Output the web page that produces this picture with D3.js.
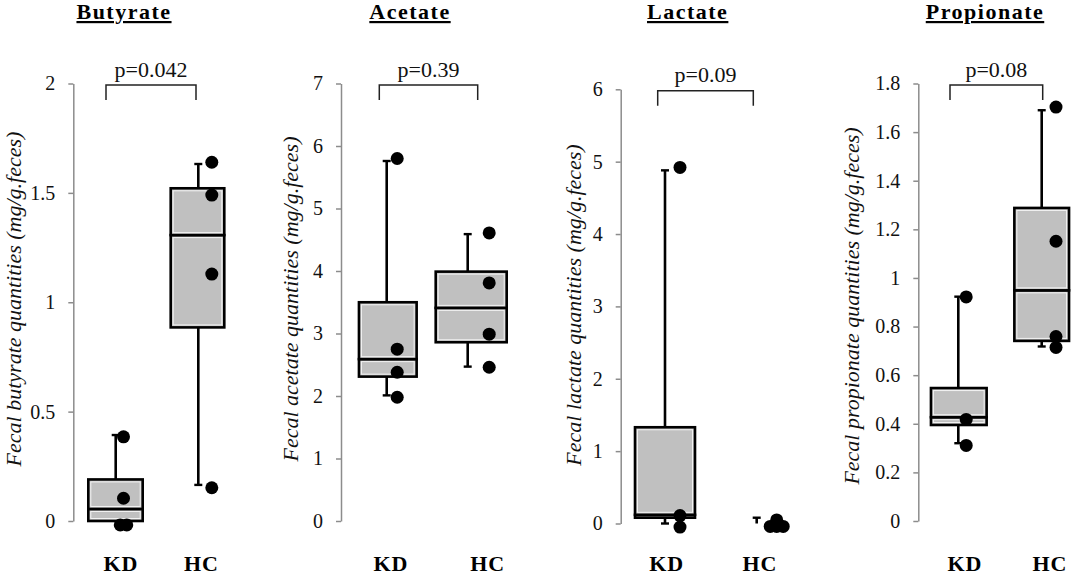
<!DOCTYPE html>
<html>
<head>
<meta charset="utf-8">
<script src="https://cdn.jsdelivr.net/npm/d3@7"></script>
<style>
  body { margin: 0; background: #fff; }
  svg { display: block; }
  svg text { font-family: 'Liberation Serif', 'Times New Roman', serif; }
</style>
</head>
<body>
<svg id="chart"></svg>
<script>
// ---- data ----
const panelNames = ['Butyrate', 'Acetate', 'Lactate', 'Propionate'];
const groups = ['KD', 'HC'];
const yTitles = [
  'Fecal butyrate quantities (mg/g.feces)',
  'Fecal acetate quantities (mg/g.feces)',
  'Fecal lactate quantities (mg/g.feces)',
  'Fecal propionate quantities (mg/g.feces)'
];
const pLabels = ['p=0.042', 'p=0.39', 'p=0.09', 'p=0.08'];
const yTickLabels = [
  ['0', '0.5', '1', '1.5', '2'],
  ['0', '1', '2', '3', '4', '5', '6', '7'],
  ['0', '1', '2', '3', '4', '5', '6'],
  ['0', '0.2', '0.4', '0.6', '0.8', '1', '1.2', '1.4', '1.6', '1.8']
];

// box stats per group (KD, HC): [min, q1, median, q3, max]
const butyrateBox = [[0, 0, 0.055, 0.19, 0.393], [0.165, 0.885, 1.307, 1.521, 1.632]];
const acetateBox = [[2.01, 2.31, 2.59, 3.50, 5.76], [2.47, 2.86, 3.41, 3.99, 4.59]];
const lactateBox = [[0, 0.08, 0.12, 1.33, 4.88], [0, 0, 0, 0, 0.08]];
const propionateBox = [[0.32, 0.395, 0.427, 0.547, 0.923], [0.718, 0.741, 0.949, 1.288, 1.69]];

// individual samples per group (KD, HC)
const butyratePoints = [[0.385, 0.104, -0.018, -0.018], [1.64, 1.49, 1.129, 0.152]];
const acetatePoints = [[5.80, 2.75, 2.38, 1.98], [4.61, 3.81, 2.99, 2.46]];
const lactatePoints = [[4.92, 0.11, -0.05], [0.05, -0.04, -0.04, -0.04]];
const propionatePoints = [[0.922, 0.418, 0.311], [1.703, 1.151, 0.759, 0.714]];

// ---- layout (pixels) ----
const layout = [
  {axisX: 73.3, top: 83.5, bottom: 521, centers: [115.5, 197.5], boxW: [54.4, 53.6],
   whiskDx: [0.2, 0.8], dotDx: [7.8, 13.5], labelDx: [5.5, 4], titleX: 124,
   bracket: [106, 196], yTitleX: 20.5, yTitleY: 299},
  {axisX: 341, top: 83.5, bottom: 521, centers: [387.8, 471.2], boxW: [57.7, 71],
   whiskDx: [-1.1, -3.5], dotDx: [10.5, 21.5], labelDx: [3.2, 16.5], titleX: 410,
   bracket: [379.3, 477.7], yTitleX: 298, yTitleY: 299},
  {axisX: 620.7, top: 89.3, bottom: 523.5, centers: [665, 755], boxW: [60, 58],
   whiskDx: [0, 1.7], dotDx: [15, 20], labelDx: [1.7, 5], titleX: 687.7,
   bracket: [657.7, 753.3], yTitleX: 581, yTitleY: 305},
  {axisX: 918.3, top: 83.5, bottom: 521, centers: [958.8, 1041.7], boxW: [55.7, 54.7],
   whiskDx: [-0.5, 0], dotDx: [7.9, 14.3], labelDx: [6.2, 8.3], titleX: 985,
   bracket: [950, 1042.7], yTitleX: 859, yTitleY: 306}
];

const W = 1071, H = 579;
const boxes = [butyrateBox, acetateBox, lactateBox, propionateBox];
const points = [butyratePoints, acetatePoints, lactatePoints, propionatePoints];

const svg = d3.select('#chart').attr('width', W).attr('height', H);
svg.append('rect').attr('width', W).attr('height', H).attr('fill', '#fff');

panelNames.forEach((name, p) => {
  const L = layout[p];
  const ticks = yTickLabels[p].map(Number);
  const y = d3.scaleLinear().domain([0, d3.max(ticks)]).range([L.bottom, L.top]);
  const x = d3.scalePoint().domain(groups).range(L.centers);
  const g = svg.append('g').attr('class', 'panel');

  // panel title
  g.append('text')
      .attr('x', L.titleX)
      .attr('y', 19)
      .attr('text-anchor', 'middle')
      .attr('font-weight', 'bold')
      .attr('font-size', '22px')
      .attr('letter-spacing', '1.5px')
      .style('text-decoration', 'underline')
      .text(name);

  // y axis
  const axis = d3.axisLeft(y)
      .tickValues(ticks)
      .tickFormat((d, i) => yTickLabels[p][i])
      .tickSize(5)
      .tickSizeOuter(0)
      .tickPadding(13);
  const ax = g.append('g')
      .attr('transform', `translate(${L.axisX},0)`)
      .call(axis);
  ax.select('.domain').attr('stroke', '#8c8c8c').attr('stroke-width', 1.5);
  ax.selectAll('.tick line').attr('stroke', '#8c8c8c').attr('stroke-width', 1.5);
  ax.selectAll('.tick text')
      .attr('font-size', '20px')
      .attr('fill', '#111');

  // y axis title
  g.append('text')
      .attr('transform', `translate(${L.yTitleX},${L.yTitleY}) rotate(-90)`)
      .attr('text-anchor', 'middle')
      .attr('font-style', 'italic')
      .attr('font-size', '22px')
      .attr('fill', '#111')
      .text(yTitles[p]);

  // significance bracket
  const bTop = L.top + 1.5;
  g.append('path')
      .attr('d', `M${L.bracket[0]},${bTop + 15}V${bTop}H${L.bracket[1]}V${bTop + 15}`)
      .attr('fill', 'none')
      .attr('stroke', '#222')
      .attr('stroke-width', 1.5);
  g.append('text')
      .attr('x', (L.bracket[0] + L.bracket[1]) / 2)
      .attr('y', bTop - 8.5)
      .attr('text-anchor', 'middle')
      .attr('font-size', '22px')
      .attr('fill', '#111')
      .text(pLabels[p]);

  groups.forEach((grp, i) => {
    const [mn, q1, md, q3, mx] = boxes[p][i];
    const cx = x(grp);
    const bw = L.boxW[i];
    const wx = cx + L.whiskDx[i];

    // whiskers with caps
    [[q3, mx], [q1, mn]].forEach(([from, to]) => {
      if (from === to) return;
      g.append('line')
          .attr('x1', wx).attr('x2', wx)
          .attr('y1', y(from)).attr('y2', y(to))
          .attr('stroke', '#000').attr('stroke-width', 2.6);
      g.append('line')
          .attr('x1', wx - 4).attr('x2', wx + 4)
          .attr('y1', y(to)).attr('y2', y(to))
          .attr('stroke', '#000').attr('stroke-width', 2.4);
    });

    // box: lower and upper halves
    [[q1, md], [md, q3]].forEach(([lo, hi]) => {
      const y0 = y(hi), h = y(lo) - y(hi);
      g.append('rect')
          .attr('x', cx - bw / 2).attr('y', y0)
          .attr('width', bw).attr('height', h)
          .attr('fill', '#c0c0c0')
          .attr('stroke', '#000').attr('stroke-width', 2.6);
      if (h > 6) {
        g.append('rect')
            .attr('x', cx - bw / 2 + 2.5).attr('y', y0 + 2.5)
            .attr('width', bw - 5).attr('height', h - 5)
            .attr('fill', 'none')
            .attr('stroke', '#f2f2f2').attr('stroke-width', 1);
      }
    });

    // sample dots; repeated values are spread side by side
    const vals = points[p][i];
    const dots = vals.map((v, k) => {
      const same = vals.filter(u => u === v).length;
      const rank = vals.slice(0, k).filter(u => u === v).length;
      return {v, dx: (rank - (same - 1) / 2) * 6.5};
    });
    g.selectAll(null)
        .data(dots)
      .join('circle')
        .attr('cx', d => wx + L.dotDx[i] + d.dx)
        .attr('cy', d => y(d.v))
        .attr('r', 6.5)
        .attr('fill', '#000');

    // group label
    g.append('text')
        .attr('x', cx + L.labelDx[i])
        .attr('y', 571)
        .attr('text-anchor', 'middle')
        .attr('font-weight', 'bold')
        .attr('font-size', '22px')
        .attr('letter-spacing', '1px')
        .text(grp);
  });
});

// d3.axis puts its own font on the axis group; let the stylesheet win
svg.selectAll('g').attr('font-family', null);
</script>
</body>
</html>
